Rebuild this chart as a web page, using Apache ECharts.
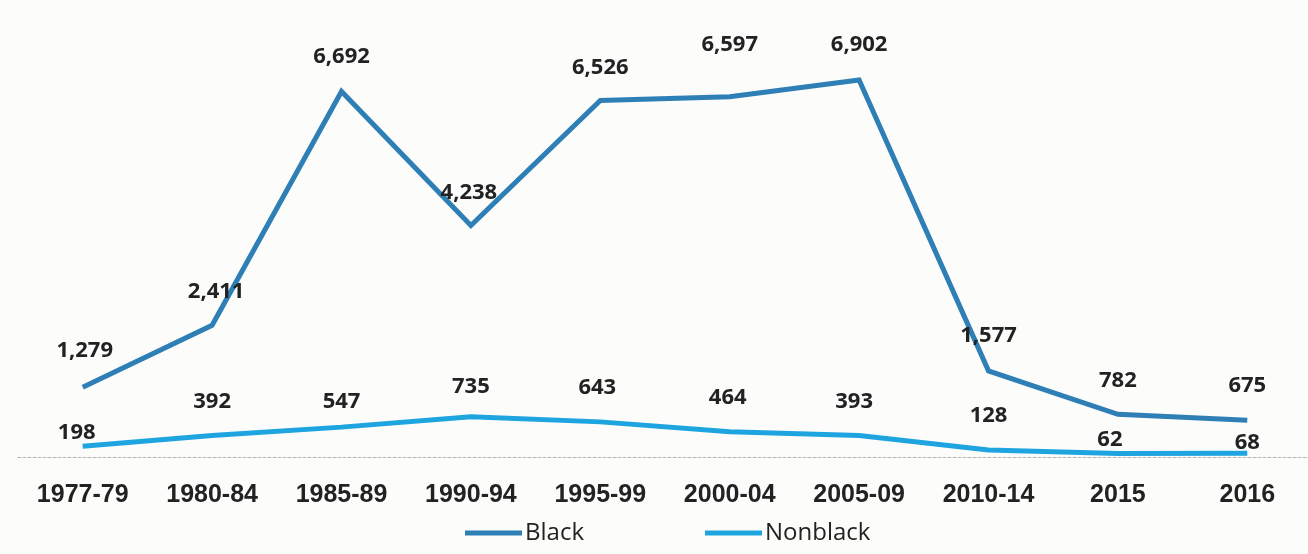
<!DOCTYPE html>
<html>
<head>
<meta charset="utf-8">
<script src="https://cdn.jsdelivr.net/npm/echarts@6/dist/echarts.min.js"></script>
<style>
  html, body { margin: 0; padding: 0; background: #fcfcfb; }
  #chart { width: 1308px; height: 554px; }
</style>
</head>
<body>
<div id="chart"></div>
<script>
// Periods on the horizontal axis
const periods = ['1977-79', '1980-84', '1985-89', '1990-94', '1995-99', '2000-04', '2005-09', '2010-14', '2015', '2016'];

// Counts per period
const blackValues    = [1279, 2411, 6692, 4238, 6526, 6597, 6902, 1577, 782, 675];
const nonblackValues = [198, 392, 547, 735, 643, 464, 393, 128, 62, 68];

const seriesNames = ['Black', 'Nonblack'];
const seriesColors = ['#2e7fb6', '#1ea5e0'];

// Per-point label nudges [dx, dy] so labels sit clear of the lines
const blackLabelShift    = [[2, -2], [4, 0], [0, -1], [-2, 1], [0, 1], [0, -18], [0, -1], [0, -1], [0, 1], [0, 0]];
const nonblackLabelShift = [[-6, 21], [0, 0], [0, 9], [0, 4], [-3, 0], [-2, 0], [-5, 0], [0, 0], [-8, 20], [0, 23]];

const fmt = v => v.toLocaleString('en-US');

function buildData(values, shifts) {
  return values.map((v, i) => ({
    value: v,
    label: { offset: shifts[i] }
  }));
}

const labelStyle = {
  show: true,
  position: 'top',
  distance: 23,
  color: '#222',
  fontFamily: 'Open Sans',
  fontWeight: 'bold',
  fontSize: 22,
  formatter: p => fmt(p.value)
};

const chart = echarts.init(document.getElementById('chart'), null, { renderer: 'canvas' });

chart.setOption({
  backgroundColor: '#fcfcfb',
  animation: false,
  grid: { left: 18, width: 1294, top: 20, bottom: 97, containLabel: false, outerBoundsMode: 'none' },
  legend: {
    bottom: 4,
    left: 460,
    itemWidth: 57,
    itemHeight: 5,
    itemGap: 121,
    icon: 'rect',
    data: seriesNames,
    textStyle: {
      fontFamily: 'Open Sans',
      fontSize: 24,
      color: '#222',
      padding: [0, 0, 0, -2]
    }
  },
  xAxis: {
    type: 'category',
    data: periods,
    boundaryGap: true,
    axisLine: { show: true, lineStyle: { color: '#b8b8b8', type: [3, 2], width: 1 } },
    axisTick: { show: false },
    axisLabel: {
      margin: 26,
      color: '#222',
      fontFamily: 'Liberation Sans',
      fontWeight: 'bold',
      fontSize: 25,
      interval: 0
    }
  },
  yAxis: {
    type: 'value',
    min: 0,
    max: 8000,
    show: false,
    splitLine: { show: false }
  },
  series: [
    {
      name: seriesNames[0],
      type: 'line',
      data: buildData(blackValues, blackLabelShift),
      symbol: 'circle',
      symbolSize: 0.1,
      showSymbol: true,
      color: seriesColors[0],
      lineStyle: { width: 5, color: seriesColors[0], join: 'miter' },
      label: labelStyle,
      z: 3
    },
    {
      name: seriesNames[1],
      type: 'line',
      data: buildData(nonblackValues, nonblackLabelShift),
      symbol: 'circle',
      symbolSize: 0.1,
      showSymbol: true,
      color: seriesColors[1],
      lineStyle: { width: 5, color: seriesColors[1] },
      label: labelStyle,
      z: 2
    }
  ]
});
</script>
</body>
</html>
